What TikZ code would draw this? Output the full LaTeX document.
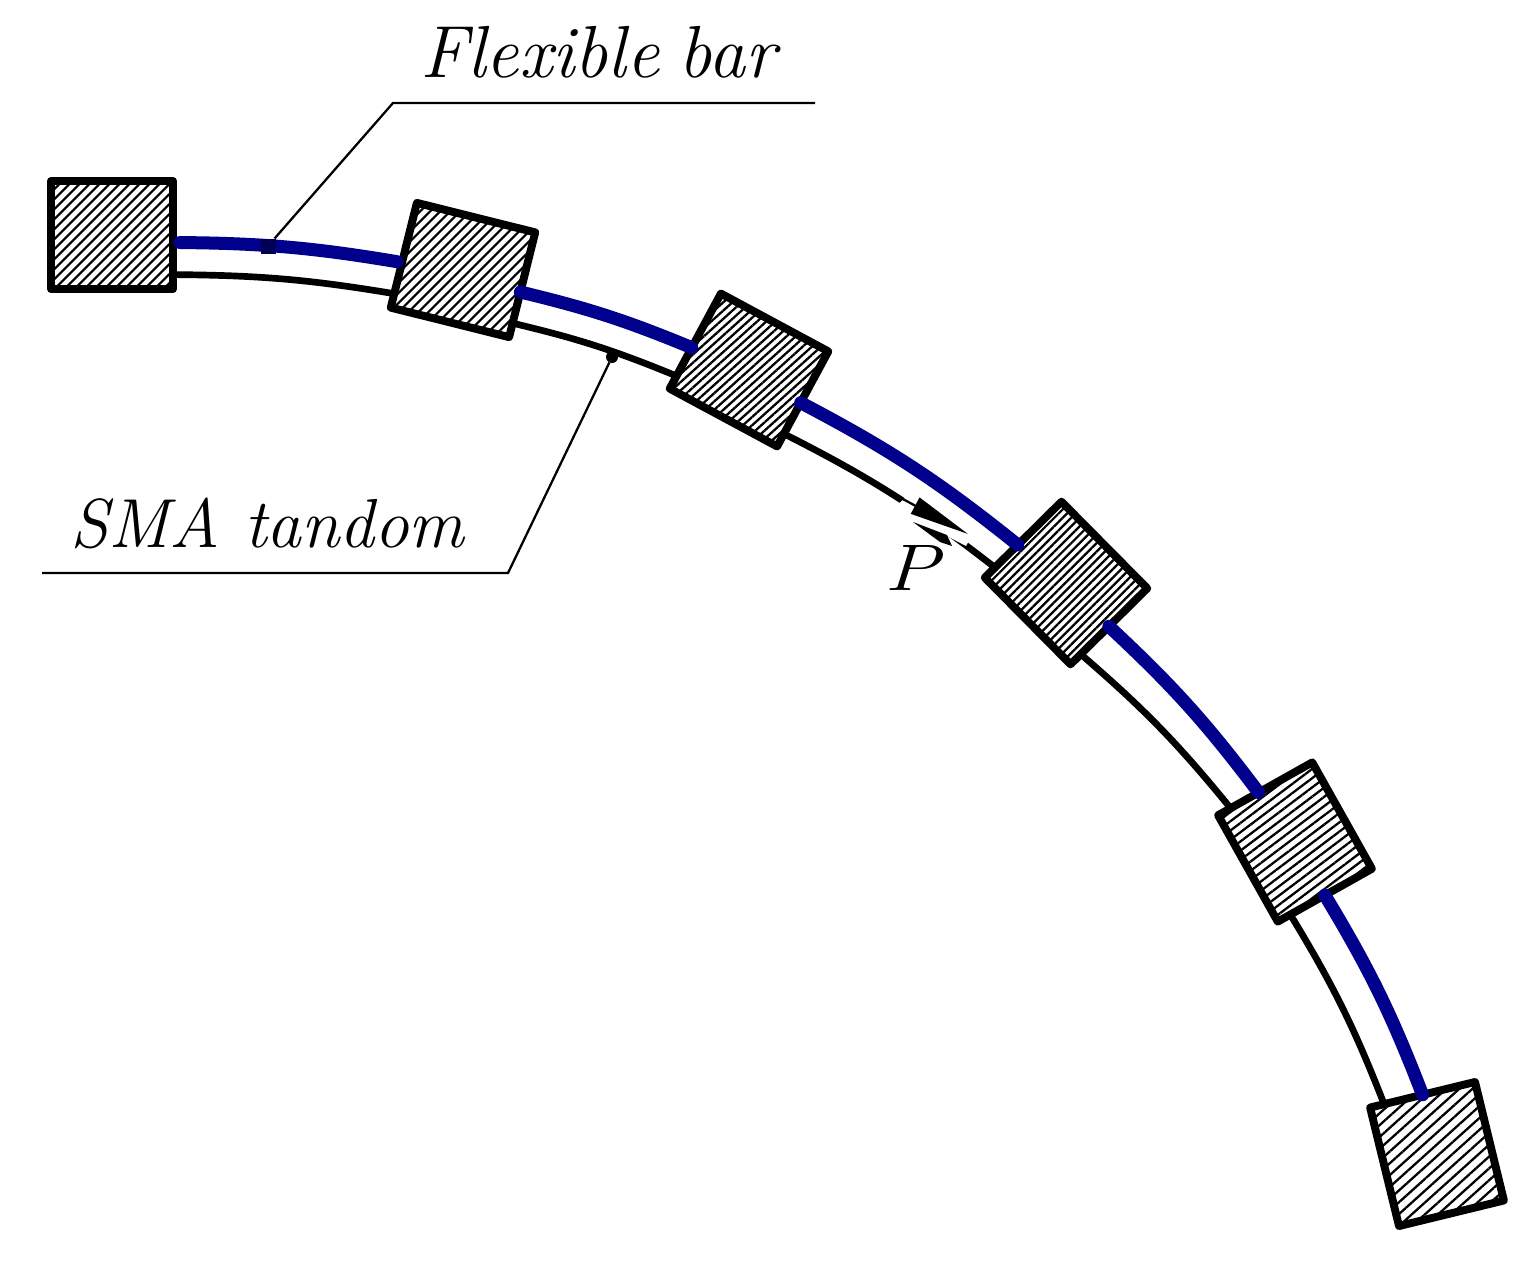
\documentclass[tikz,border=0pt]{standalone}
\usepackage{xcolor}
\usepackage{tikz}
\usetikzlibrary{arrows.meta,
patterns.meta
}
\definecolor{BarBlue}{RGB}{0,0,140}
\tikzset{
  block/.style 2 args={draw=black, line width=4.5pt, line join=round, inner sep=0pt, outer sep=0pt,
    minimum width=2.44cm, minimum height=2.16cm, preaction={fill=white},
    pattern={Lines[angle=#1, distance=#2, line width=1.3pt]}},
  bar/.style={BarBlue, line width=7.4pt, line cap=round},
  tandom/.style={black, line width=3.8pt},
  leader/.style={black, line width=1.3pt},
  caption/.style={inner sep=0pt, font=\fontsize{#1}{#1}\selectfont\itshape},
  pin/.style={inner sep=0pt, outer sep=0pt, minimum size=0.3cm}
}

\begin{document}
\begin{tikzpicture}[x=0.02cm, y=-0.02cm]
  \useasboundingbox (0, 0) rectangle (1528, 1268);

  % blocks along the arc
  \node[block={45}{4pt}] (b1) at (112, 235) {};
  \node[block={45}{4pt}, rotate=-14] (b2) at (463, 270) {};
  \node[block={42}{3.5pt}, rotate=-28.3] (b3) at (749, 370) {};
  \node[block={45}{3.4pt}, rotate=-45.3] (b4) at (1066, 583) {};
  \node[block={37}{4.2pt}, rotate=-60.7] (b5) at (1295, 842) {};
  \node[block={42}{5pt}, rotate=-76.3] (b6) at (1437, 1154) {};

  % flexible bar
  \draw[bar, shorten <=4pt, shorten >=3pt] (b1.-7) to[bend left=4.5] (b2.187);
  \draw[bar] (b2.-7) to[bend left=4.5] (b3.187);
  \draw[bar] (b3.-4) to[bend left=5.5] (b4.187);
  \draw[bar] (b4.0) to[bend left=5] (b5.187);
  \draw[bar] (b5.0) to[bend left=5] (b6.180);

  % SMA tandom
  \draw[tandom] (b1.-33) to[bend left=4.5] (b2.213);
  \draw[tandom] (b2.-33) to[bend left=4.5] (b3.213);
  \draw[tandom] (b3.-33) to[bend left=5.5] (b4.213);
  \draw[tandom] (b4.-33) to[bend left=5] (b5.213);
  \draw[tandom] (b5.-33) to[bend left=5] (b6.213);

  % force
  \fill[white] (895, 507) -- (913, 523) -- (947, 536) -- (966, 546) -- (975, 530) -- (916, 488) -- cycle;
  \fill[black] (913, 522) -- (947, 535) -- (952, 546) -- (940, 542) -- cycle;
  \coordinate (ptail) at (873, 483);
  \coordinate (ptip) at (968, 534);
  \draw[leader, -{Triangle[length=1.2cm, width=0.36cm]}] (ptail) to (ptip);
  \node[caption=37.5, anchor=base west] (pname) at (884, 590) {\scalebox{1.25}[1]{P}};

  % labels
  \node[pin, fill=BarBlue!60!black] (barpin) at (268, 246) {};
  \coordinate (barbend) at (393, 103);
  \coordinate (barend) at (815, 103);
  \draw[leader] (barpin) to (barbend) to (barend);
  \node[caption=42, anchor=base west] (barname) at (420, 77) {Flexible\hspace{11pt}bar};

  \node[pin, circle, minimum size=0.24cm, fill=black] (smapin) at (612, 357) {};
  \coordinate (smabend) at (508, 573);
  \coordinate (smaend) at (42, 573);
  \draw[leader] (smapin) to (smabend) to (smaend);
  \node[caption=39.5, anchor=base west] (smaname) at (70, 547) {SMA tandom};
\end{tikzpicture}
\end{document}
